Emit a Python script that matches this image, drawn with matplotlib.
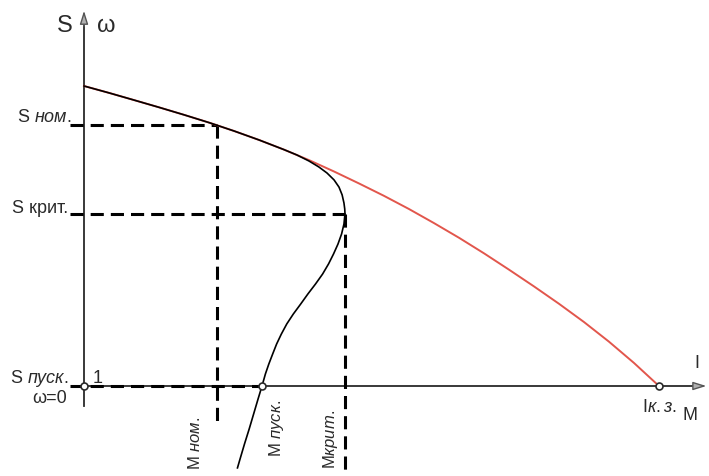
import matplotlib
matplotlib.use("Agg")
import matplotlib.pyplot as plt

plt.rcParams['font.family'] = ['Liberation Sans', 'DejaVu Sans']
plt.rcParams['mathtext.fontset'] = 'custom'
plt.rcParams['mathtext.rm'] = 'Liberation Sans'
plt.rcParams['mathtext.it'] = 'Liberation Sans:italic'

# current curve I(s) (red), torque curve M(s) (black); x in units of M crit, y = omega / omega0
cur_x = [0.0, 0.096, 0.192, 0.287, 0.383, 0.479, 0.575, 0.671, 0.766, 0.862, 0.958, 1.054,
         1.149, 1.245, 1.341, 1.437, 1.533, 1.628, 1.724, 1.820, 1.916, 2.011, 2.107, 2.203]
cur_y = [1.0, 0.977, 0.953, 0.929, 0.904, 0.878, 0.850, 0.820, 0.788, 0.753, 0.715, 0.675,
         0.634, 0.590, 0.543, 0.494, 0.442, 0.388, 0.332, 0.274, 0.213, 0.148, 0.077, 0.0]

torq_x = [0.0, 0.096, 0.192, 0.287, 0.383, 0.479, 0.575, 0.671, 0.766,
          0.816, 0.862, 0.900, 0.931, 0.958, 0.977, 0.989, 0.996, 0.999, 1.0,
          0.998, 0.996, 0.987, 0.973, 0.956, 0.937, 0.914, 0.887, 0.858, 0.830,
          0.802, 0.777, 0.756, 0.738, 0.723, 0.708, 0.695, 0.682,
          0.667, 0.650, 0.633, 0.615, 0.598, 0.588]
torq_y = [1.0, 0.977, 0.953, 0.929, 0.904, 0.878, 0.850, 0.820, 0.788,
          0.770, 0.750, 0.730, 0.710, 0.687, 0.663, 0.637, 0.610, 0.590, 0.573,
          0.557, 0.540, 0.507, 0.473, 0.440, 0.407, 0.373, 0.340, 0.307, 0.273,
          0.240, 0.207, 0.173, 0.140, 0.107, 0.073, 0.040, 0.0,
          -0.043, -0.093, -0.143, -0.193, -0.243, -0.273]

s_nom, s_crit = 0.870, 0.573
m_nom, m_start, m_crit = 0.510, 0.682, 1.0
i_kz = 2.203

ink = '#2a2a2a'
dash = (0, (4.3, 2.3))

fig = plt.figure(figsize=(7.09, 4.77), dpi=100)
ax = fig.add_axes([0, 0, 1, 1])
ax.set_xlim(-84 / 261, 625 / 261)
ax.set_ylim(-0.3, 1.29)
ax.axis('off')

# axes with arrows
ax.plot([0, 0], [-0.065, 1.2], color=ink, lw=1.3, zorder=2)
ax.plot([0, 2.36], [0, 0], color=ink, lw=1.3, zorder=2)
ax.annotate('', xy=(0, 1.26), xytext=(0, 1.19),
            arrowprops=dict(arrowstyle='-|>,head_width=0.25,head_length=0.8',
                            fc='#b0b0b0', ec='#555555', lw=1))
ax.annotate('', xy=(2.395, 0), xytext=(2.33, 0),
            arrowprops=dict(arrowstyle='-|>,head_width=0.25,head_length=0.8',
                            fc='#b0b0b0', ec='#555555', lw=1))

# dashed projections
dkw = dict(color='black', lw=2.2, linestyle=dash, zorder=3)
ax.plot([-0.054, m_nom], [s_nom, s_nom], **dkw)
ax.plot([m_nom, m_nom], [s_nom, -0.127], **dkw)
ax.plot([-0.054, m_crit], [s_crit, s_crit], **dkw)
ax.plot([m_crit, m_crit], [s_crit, -0.3], **dkw)
ax.plot([-0.054, m_start], [0, 0], **dkw)

# characteristic curves (red underneath so it tints the common part)
ax.plot(cur_x, cur_y, color='#e2564c', lw=1.4, zorder=4, solid_joinstyle='round')
ax.plot(torq_x, torq_y, color='black', lw=1.2, zorder=5, solid_joinstyle='round')

# marker circles on the abscissa
ax.plot([0, m_start, i_kz], [0, 0, 0], 'o', ms=5, mfc='white', mec=ink, mew=1.2, zorder=6)

tkw = dict(color=ink, fontsize=13)
ax.text(-0.073, 1.183, 'S', ha='center', va='baseline', color=ink, fontsize=17)
ax.text(0.084, 1.183, 'ω', ha='center', va='baseline', color=ink, fontsize=17)
ax.text(-0.257, 0.883, r'S $\mathit{ном.}$', ha='left', va='baseline', **tkw)
ax.text(-0.276, 0.58, 'S крит.', ha='left', va='baseline', **tkw)
ax.text(-0.284, 0.013, r'S $\mathit{пуск.}$', ha='left', va='baseline', **tkw)
ax.text(0.034, 0.013, '1', ha='left', va='baseline', **tkw)
ax.text(-0.065, -0.053, 'ω=0', ha='right', va='baseline', **tkw)
ax.text(2.349, 0.063, 'I', ha='center', va='baseline', **tkw)
ax.text(2.138, -0.083, r'I$\mathit{к.з.}$', ha='left', va='baseline', **tkw)
ax.text(2.295, -0.11, 'M', ha='left', va='baseline', **tkw)

rkw = dict(rotation=90, ha='center', va='top', color=ink, fontsize=12)
ax.text(0.425, -0.1, r'M $\mathit{ном.}$', **rkw)
ax.text(0.736, -0.043, r'M $\mathit{пуск.}$', **rkw)
ax.text(0.946, -0.077, r'M$\mathit{крит.}$', **rkw)

fig.savefig('out.png', dpi=100, facecolor='white')
